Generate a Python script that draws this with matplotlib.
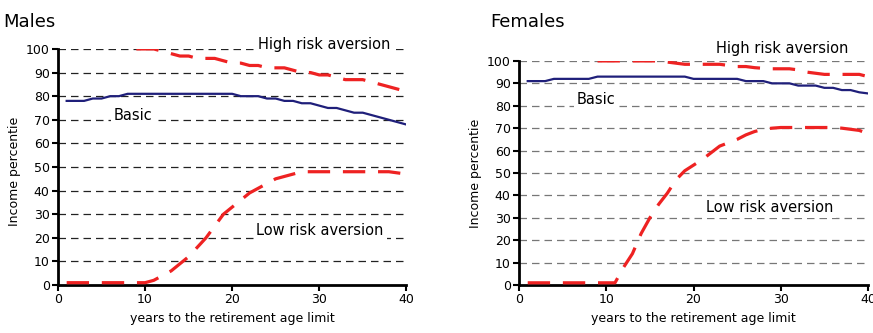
import matplotlib
matplotlib.use("Agg")
import matplotlib.pyplot as plt

years = list(range(1, 41))

# Males
males_basic = [78, 78, 78, 79, 79, 80, 80, 81, 81, 81,
               81, 81, 81, 81, 81, 81, 81, 81, 81, 81,
               80, 80, 80, 79, 79, 78, 78, 77, 77, 76,
               75, 75, 74, 73, 73, 72, 71, 70, 69, 68]
males_high_years = list(range(9, 41))
males_high = [100, 100, 100, 99, 98, 97, 97, 96, 96, 96,
              95, 94, 94, 93, 93, 92, 92, 92, 91, 90,
              90, 89, 89, 88, 87, 87, 87, 86, 85, 84,
              83, 82]
males_low = [1, 1, 1, 1, 1, 1, 1, 1, 1, 1,
             2, 4, 6, 9, 12, 16, 20, 25, 30, 33,
             36, 39, 41, 43, 45, 46, 47, 48, 48, 48,
             48, 48, 48, 48, 48, 48, 48, 48, 47.5, 47]

# Females
females_basic = [91, 91, 91, 92, 92, 92, 92, 92, 93, 93,
                 93, 93, 93, 93, 93, 93, 93, 93, 93, 92,
                 92, 92, 92, 92, 92, 91, 91, 91, 90, 90,
                 90, 89, 89, 89, 88, 88, 87, 87, 86, 85.5]
females_high_years = list(range(9, 41))
females_high = [100, 100, 100, 100, 100, 100, 100, 100, 99.5, 99,
                98.5, 98.5, 98.5, 98.5, 98.5, 98, 97.5, 97.5, 97, 96.7,
                96.5, 96.5, 96.5, 96, 95, 94.5, 94, 94, 94, 94,
                94, 93]
females_low = [1, 1, 1, 1, 1, 1, 1, 1, 1, 1,
               1, 8, 14, 23, 30, 36, 41, 47, 51, 53.5,
               56, 59, 62, 63.5, 65, 67, 68.5, 69.5, 70, 70.3,
               70.3, 70.3, 70.3, 70.3, 70.3, 70.3, 70, 69.5, 69, 67.5]

red = "#ee2222"
navy = "#1f1f7a"

fig = plt.figure(figsize=(8.73, 3.33), dpi=100)
ax1 = fig.add_axes([0.0664, 0.144, 0.399, 0.709])
ax2 = fig.add_axes([0.5945, 0.144, 0.3998, 0.673])


def style_axis(ax, gridcolor):
    ax.set_xlim(0, 40)
    ax.set_ylim(0, 100)
    ax.set_xticks([0, 10, 20, 30, 40])
    ax.set_yticks(range(0, 101, 10))
    for y in range(10, 101, 10):
        ax.axhline(y, color=gridcolor, lw=0.9, dashes=(6, 4), zorder=1)
    for s in ["top", "right"]:
        ax.spines[s].set_visible(False)
    for s in ["left", "bottom"]:
        ax.spines[s].set_linewidth(2)
    ax.tick_params(direction="out", length=4, width=1.5, labelsize=9, pad=2)
    ax.set_xlabel("years to the retirement age limit", fontsize=9, labelpad=4)
    ax.set_ylabel("Income percentie", fontsize=9, labelpad=2)


def label(ax, x, y, txt):
    ax.text(x, y, txt, fontsize=10.5, ha="center", va="center", zorder=5,
            clip_on=False,
            bbox=dict(facecolor="white", edgecolor="none", pad=2))


style_axis(ax1, "#222222")
ax1.plot(years, males_basic, color=navy, lw=1.6, zorder=3)
ax1.plot(males_high_years, males_high, color=red, lw=2.3, dashes=(7, 4), zorder=3)
ax1.plot(years, males_low, color=red, lw=2.3, dashes=(7, 4), zorder=3)
label(ax1, 30.6, 101.7, "High risk aversion")
label(ax1, 8.6, 72, "Basic")
label(ax1, 30.1, 22.9, "Low risk aversion")
ax1.yaxis.set_label_coords(-0.105, 0.48)

style_axis(ax2, "#777777")
ax2.plot(years, females_basic, color=navy, lw=1.6, zorder=3)
ax2.plot(females_high_years, females_high, color=red, lw=2.3, dashes=(7, 4), zorder=3)
ax2.plot(years, females_low, color=red, lw=2.3, dashes=(7, 4), zorder=3)
label(ax2, 30.2, 105.4, "High risk aversion")
label(ax2, 8.8, 83, "Basic")
label(ax2, 28.7, 34.4, "Low risk aversion")
ax2.yaxis.set_label_coords(-0.105, 0.5)

fig.text(0.004, 0.935, "Males", fontsize=13, va="center")
fig.text(0.561, 0.935, "Females", fontsize=13, va="center")

fig.savefig("out.png", dpi=100)
